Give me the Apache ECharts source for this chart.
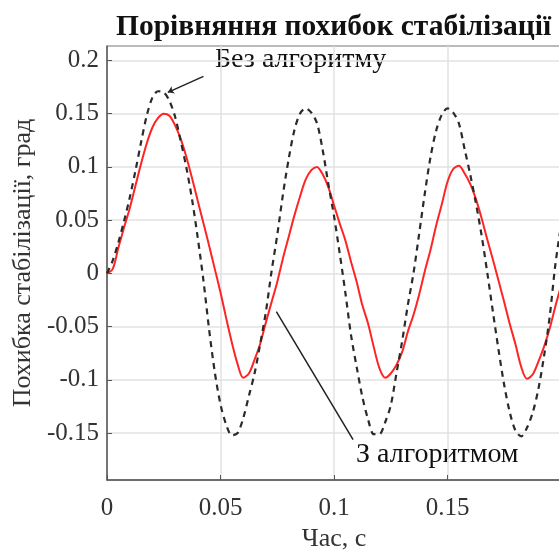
<!DOCTYPE html>
<html>
<head>
<meta charset="utf-8">
<script src="https://cdn.jsdelivr.net/npm/echarts@6/dist/echarts.min.js"></script>
<style>
  html, body { margin: 0; padding: 0; background: #fff; }
  #chart { width: 559px; height: 552px; }
</style>
</head>
<body>
<div id="chart"></div>
<script>
// час, с (крок 0.0025)
var time = [];
for (var i = 0; i <= 80; i++) time.push(+(i * 0.0025).toFixed(4));

// похибка без алгоритму, град (чорна штрихова)
var bezAlg = [
  0, 0.012, 0.029, 0.049, 0.071, 0.096, 0.123, 0.148, 0.165, 0.171,
  0.170, 0.162, 0.147, 0.124, 0.099, 0.069, 0.033, -0.007, -0.053, -0.093,
  -0.123, -0.142, -0.152, -0.150, -0.136, -0.115, -0.094, -0.066, -0.036, 0.002,
  0.036, 0.074, 0.107, 0.134, 0.150, 0.155, 0.151, 0.141, 0.116, 0.084,
  0.054, 0.019, -0.018, -0.058, -0.088, -0.116, -0.137, -0.151, -0.151, -0.140,
  -0.124, -0.094, -0.064, -0.030, 0.000, 0.037, 0.075, 0.109, 0.134, 0.149,
  0.155, 0.151, 0.141, 0.117, 0.093, 0.066, 0.036, 0.001, -0.036, -0.072,
  -0.105, -0.131, -0.148, -0.153, -0.145, -0.131, -0.109, -0.078, -0.041, 0.008,
  0.045
];

// похибка з алгоритмом, град (червона)
var zAlg = [
  0, 0.004, 0.024, 0.043, 0.061, 0.082, 0.103, 0.122, 0.137, 0.146,
  0.150, 0.148, 0.139, 0.126, 0.109, 0.089, 0.068, 0.047, 0.026, 0.004,
  -0.018, -0.042, -0.065, -0.085, -0.098, -0.094, -0.081, -0.066, -0.046, -0.027,
  -0.008, 0.014, 0.034, 0.054, 0.072, 0.088, 0.097, 0.100, 0.093, 0.081,
  0.064, 0.047, 0.031, 0.011, -0.008, -0.030, -0.047, -0.069, -0.089, -0.098,
  -0.094, -0.086, -0.074, -0.055, -0.039, -0.020, 0.002, 0.022, 0.045, 0.065,
  0.086, 0.098, 0.101, 0.094, 0.084, 0.070, 0.052, 0.032, 0.013, -0.007,
  -0.027, -0.048, -0.067, -0.088, -0.099, -0.095, -0.083, -0.069, -0.052, -0.031,
  -0.012
];

var yTicks = [-0.15, -0.1, -0.05, 0, 0.05, 0.1, 0.15, 0.2];

function pairs(vals) {
  return time.map(function (t, i) { return [t, vals[i]]; });
}

var font = 'Liberation Serif';
var chart = echarts.init(document.getElementById('chart'));

chart.setOption({
  animation: false,
  grid: {
    left: 107, top: 46, width: 454, height: 434,
    outerBoundsMode: 'none',
    show: true, borderColor: '#777', borderWidth: 1
  },
  graphic: [
    { type: 'text', left: 116, top: 12,
      style: { text: 'Порівняння похибок стабілізації', font: 'bold 29.5px ' + font, fill: '#111' } },
    { type: 'text', left: 215, top: 46,
      style: { text: 'Без алгоритму', font: '28px ' + font, fill: '#111' } },
    { type: 'text', left: 356, top: 441,
      style: { text: 'З алгоритмом', font: '28px ' + font, fill: '#111' } }
  ],
  xAxis: {
    type: 'value', min: 0, max: 0.2, interval: 0.05,
    name: 'Час, с', nameLocation: 'middle', nameGap: 43,
    nameTextStyle: { fontFamily: font, fontSize: 26, color: '#333' },
    axisLine: { onZero: false, lineStyle: { color: '#555', width: 1.5 } },
    axisTick: { inside: true, length: 5, lineStyle: { color: '#555' } },
    axisLabel: {
      fontFamily: font, fontSize: 25, color: '#333', margin: 16,
      formatter: function (v) { return v >= 0.2 ? '' : String(+v.toFixed(2)); }
    },
    splitLine: { lineStyle: { color: '#e2e2e2', width: 1.5 } }
  },
  yAxis: {
    type: 'value', min: -0.194, max: 0.2135,
    name: 'Похибка стабілізації, град', nameLocation: 'middle', nameGap: 70,
    nameTextStyle: { fontFamily: font, fontSize: 26, color: '#333' },
    axisLine: { show: true, onZero: false, lineStyle: { color: '#555', width: 1.5 } },
    axisTick: { show: true, inside: true, length: 5, customValues: yTicks, lineStyle: { color: '#555' } },
    axisLabel: {
      fontFamily: font, fontSize: 25, color: '#333', margin: 8, customValues: yTicks,
      formatter: function (v) { return String(+v.toFixed(2)); }
    },
    splitLine: { lineStyle: { color: '#e2e2e2', width: 1.5 } }
  },
  series: [
    {
      name: 'З алгоритмом', type: 'line', data: pairs(zAlg),
      symbol: 'none', smooth: 0.3,
      lineStyle: { color: '#ff2424', width: 2 },
      markLine: {
        silent: true, symbol: ['none', 'none'],
        lineStyle: { color: '#222', width: 1.5, type: 'solid' },
        label: { show: false },
        data: [[{ coord: [0.0746, -0.0358] }, { coord: [0.1084, -0.156] }]]
      }
    },
    {
      name: 'Без алгоритму', type: 'line', data: pairs(bezAlg),
      symbol: 'none', smooth: 0.3,
      lineStyle: { color: '#2a2a2a', width: 2.2, type: [6, 5] },
      markLine: {
        silent: true, symbol: ['none', 'arrow'], symbolSize: 6,
        lineStyle: { color: '#222', width: 1.5, type: 'solid' },
        label: { show: false },
        data: [[{ coord: [0.0425, 0.185] }, { coord: [0.0268, 0.170] }]]
      }
    }
  ]
});
</script>
</body>
</html>
